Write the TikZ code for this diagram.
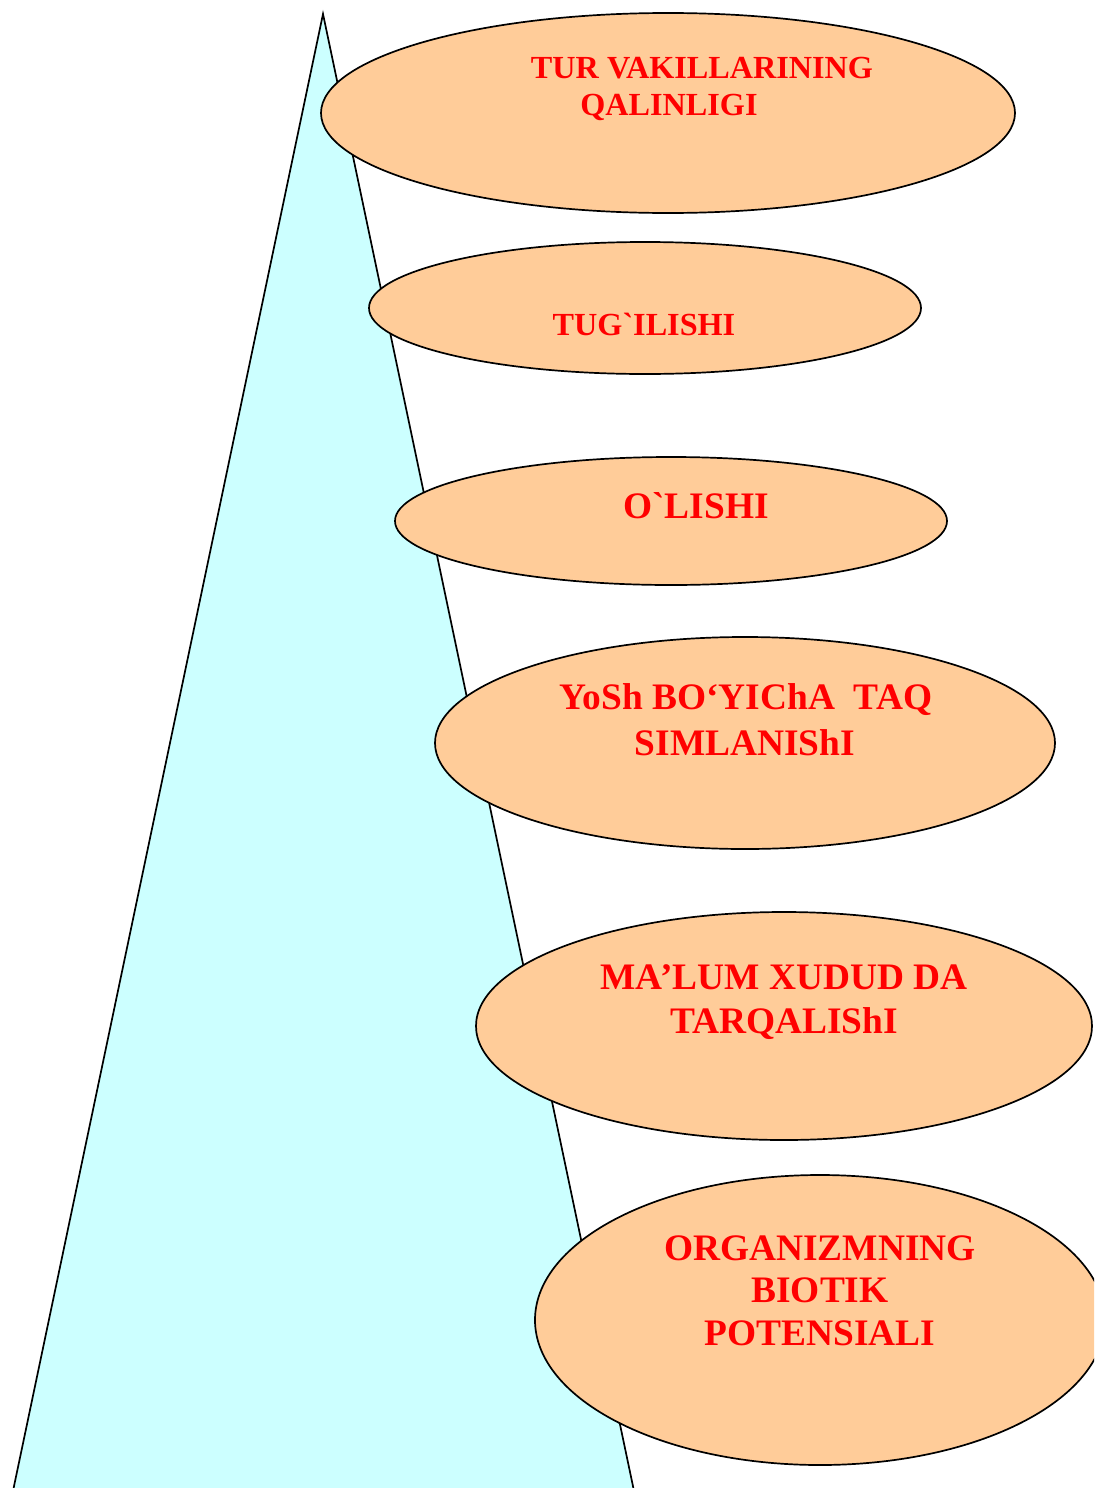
\documentclass[tikz,border=0pt]{standalone}
\usepackage{fontspec}
\setmainfont{Liberation Serif}[Ligatures=TeXOff]
\usetikzlibrary{shapes.geometric}
\definecolor{conefill}{HTML}{CCFFFF}
\definecolor{ovalfill}{HTML}{FFCC99}
\begin{document}
\begin{tikzpicture}[x=0.5pt,y=-0.5pt,
  oval/.style={ellipse,draw=black,line width=0.85pt,fill=ovalfill,inner sep=0pt},
  lbl/.style={anchor=base,inner sep=0pt,text=red,font=\bfseries\fontsize{18.7pt}{22pt}\selectfont},
  lblsmall/.style={lbl,font=\bfseries\fontsize{16.1pt}{18.5pt}\selectfont}]
\useasboundingbox (0,0) rectangle (1094,1488);
\clip (0,0) rectangle (1094,1488);
% the cone behind the ovals
\coordinate (apex) at (323,14);
\coordinate (baseL) at (9,1510);
\coordinate (baseR) at (638,1510);
\draw[line width=0.85pt,fill=conefill] (apex) -- (baseR) -- (baseL) -- cycle;
% ovals (sizes in pt: half the pixel size)
\node[oval,minimum width=347pt,minimum height=100pt] (e1) at (668,113) {};
\node[oval,minimum width=276pt,minimum height=66pt] (e2) at (645,308) {};
\node[oval,minimum width=276pt,minimum height=64pt] (e3) at (671,521) {};
\node[oval,minimum width=310pt,minimum height=106pt] (e4) at (745,743) {};
\node[oval,minimum width=308pt,minimum height=114pt] (e5) at (784,1026) {};
\node[oval,minimum width=285pt,minimum height=145pt] (e6) at (820,1320) {};
% labels
\node[lblsmall] (t1a) at (702,78) {TUR VAKILLARINING};
\node[lblsmall] (t1b) at (669,115) {QALINLIGI};
\node[lblsmall] (t2) at (644,335) {TUG`ILISHI};
\node[lbl] (t3) at (696,518) {O`LISHI};
\node[lbl] (t4a) at (746,709) {YoSh BO‘YIChA\ \ TAQ};
\node[lbl] (t4b) at (745,755) {SIMLANIShI};
\node[lbl] (t5a) at (784,989) {MA’LUM XUDUD DA};
\node[lbl] (t5b) at (784,1033) {TARQALIShI};
\node[lbl] (t6a) at (820,1260) {ORGANIZMNING};
\node[lbl] (t6b) at (820,1302) {BIOTIK};
\node[lbl] (t6c) at (820,1345) {POTENSIALI};
\end{tikzpicture}
\end{document}
